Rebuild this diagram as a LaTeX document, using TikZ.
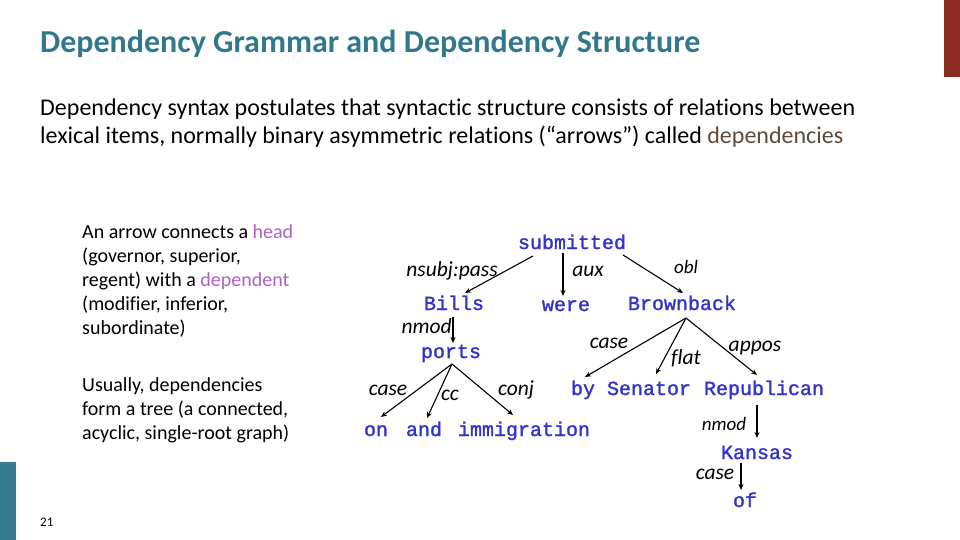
\documentclass[tikz,border=0pt]{standalone}
\usepackage{fontspec}
\setmainfont[Ligatures={NoCommon,NoContextual},Contextuals=NoAlternate]{Carlito}
\newfontfamily\wordfont[FakeBold=1.5]{Liberation Mono}
\usetikzlibrary{arrows.meta}
\definecolor{titleteal}{HTML}{31788C}
\definecolor{wordblue}{HTML}{3333CC}
\definecolor{depbrown}{HTML}{5E4B3C}
\definecolor{headpurple}{HTML}{B062C4}
\definecolor{barred}{HTML}{8B2A22}
\definecolor{barteal}{HTML}{357A8E}
\tikzset{
  word/.style={font=\wordfont\fontsize{20}{24}\selectfont, text=wordblue, inner sep=0pt, anchor=base},
  rel/.style={font=\itshape\fontsize{21.5}{24}\selectfont, inner sep=0pt, anchor=base},
  relsmall/.style={font=\itshape\fontsize{19}{22}\selectfont, inner sep=0pt, anchor=base},
  dep/.style={-{Stealth[length=6pt,width=5pt]}, line width=1.1pt, black},
  bodyline/.style={font=\fontsize{24}{28}\selectfont, inner sep=0pt, anchor=base west},
  sideline/.style={font=\fontsize{20}{24}\selectfont, inner sep=0pt, anchor=base west}
}
\begin{document}
\begin{tikzpicture}[x=1pt,y=-1pt]
\useasboundingbox (0,0) rectangle (960,540);
\fill[white] (0,0) rectangle (960,540);
% bars
\fill[barred] (944,0) rectangle (960,77);
\fill[barteal] (0,462) rectangle (16,540);
% title
\node[font=\bfseries\fontsize{32}{36}\selectfont, text=titleteal, inner sep=0pt, anchor=base west] (title) at (40,53) {Dependency Grammar and Dependency Structure};
\node[bodyline] (body1) at (40,116) {Dependency syntax postulates that syntactic structure consists of relations between};
\node[bodyline] (body2) at (40,144) {lexical items, normally binary asymmetric relations (“arrows”) called \textcolor{depbrown}{dependencies}};
% side text
\node[sideline] (s1) at (82,238) {An arrow connects a \textcolor{headpurple}{head}};
\node[sideline] (s2) at (82,262) {(governor, superior,};
\node[sideline] (s3) at (82,286) {regent) with a \textcolor{headpurple}{dependent}};
\node[sideline] (s4) at (82,310) {(modifier, inferior,};
\node[sideline] (s5) at (82,334) {subordinate)};
\node[sideline] (s6) at (82,391) {Usually, dependencies};
\node[sideline] (s7) at (82,415) {form a tree (a connected,};
\node[sideline] (s8) at (82,439) {acyclic, single-root graph)};
\node[font=\fontsize{13}{15}\selectfont, inner sep=0pt, anchor=base west] (pagenum) at (40,526) {21};
% words
\node[word] (submitted) at (572,249) {submitted};
\node[word] (Bills) at (454,310) {Bills};
\node[word] (were) at (566,311) {were};
\node[word] (Brownback) at (682,310) {Brownback};
\node[word] (ports) at (451,358) {ports};
\node[word] (on) at (376,436) {on};
\node[word] (and) at (424,436) {and};
\node[word] (immigration) at (524,436) {immigration};
\node[word] (by) at (583,395) {by};
\node[word] (Senator) at (649,395) {Senator};
\node[word] (Republican) at (764,395) {Republican};
\node[word] (Kansas) at (757,459) {Kansas};
\node[word] (of) at (745,507) {of};
% relation labels
\node[rel] (l1) at (452,276) {nsubj:pass};
\node[rel] (l2) at (588,276) {aux};
\node[relsmall] (l3) at (686,273) {obl};
\node[rel, anchor=base east] (l4) at (452,333) {nmod};
\node[rel] (l5) at (388,395) {case};
\node[rel] (l6) at (450,400) {cc};
\node[rel] (l7) at (516,395) {conj};
\node[rel] (l8) at (609,348) {case};
\node[rel] (l9) at (686,364) {flat};
\node[rel] (l10) at (755,351) {appos};
\node[relsmall] (l11) at (724,430) {nmod};
\node[rel] (l12) at (715,479) {case};
% arrows
\draw[dep] ([shift={(-39,7)}]submitted.base) -- ([shift={(11,-17)}]Bills.base);
\draw[dep] ([shift={(-9,4)}]submitted.base) -- ([shift={(-3,-15)}]were.base);
\draw[dep] ([shift={(51,6)}]submitted.base) -- ([shift={(1,-17)}]Brownback.base);
\draw[dep] ([shift={(-1,7)}]Bills.base) -- ([shift={(2,-15)}]ports.base);
\draw[dep] ([shift={(1,6)}]ports.base) -- ([shift={(5,-19)}]on.base);
\draw[dep] ([shift={(1,6)}]ports.base) -- ([shift={(3,-18)}]and.base);
\draw[dep] ([shift={(1,6)}]ports.base) -- ([shift={(-11,-21)}]immigration.base);
\draw[dep] ([shift={(4,8)}]Brownback.base) -- ([shift={(2,-18)}]by.base);
\draw[dep] ([shift={(4,8)}]Brownback.base) -- ([shift={(7,-21)}]Senator.base);
\draw[dep] ([shift={(4,8)}]Brownback.base) -- ([shift={(-7,-20)}]Republican.base);
\draw[dep] ([shift={(-7,10)}]Republican.base) -- ([shift={(0,-21)}]Kansas.base);
\draw[dep] ([shift={(-16,4)}]Kansas.base) -- ([shift={(-4,-17)}]of.base);
\end{tikzpicture}
\end{document}
